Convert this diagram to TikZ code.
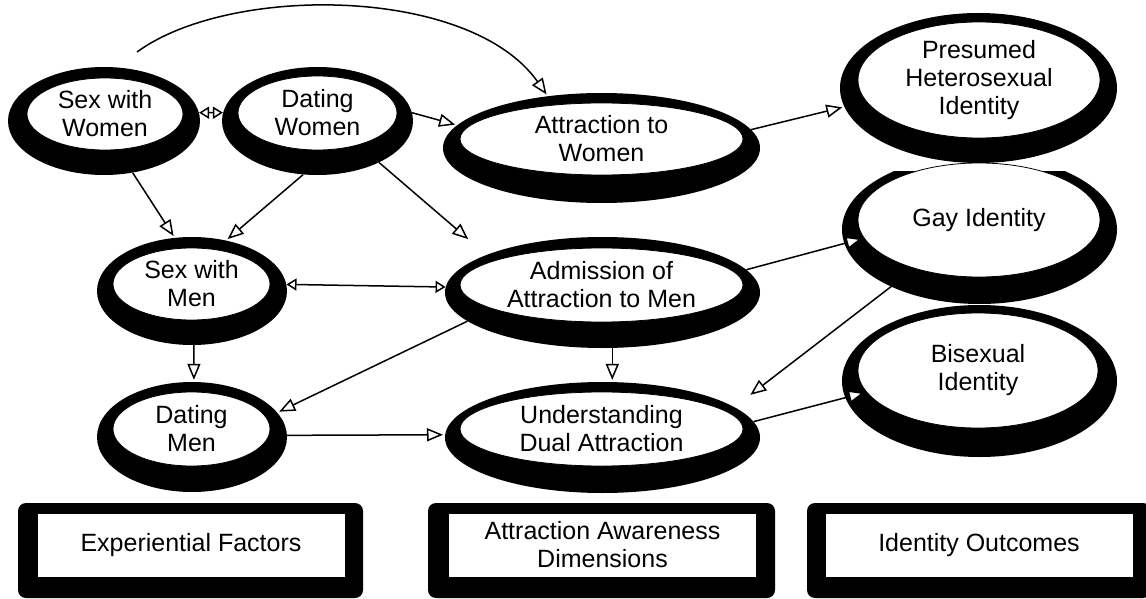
\documentclass[tikz,border=0pt]{standalone}
\usepackage{fontspec}
\setmainfont{Liberation Sans}
\usepackage{tikz}
\usetikzlibrary{shapes.geometric,arrows.meta,calc}

\tikzset{
	rim/.style 2 args={ellipse, fill=black, inner sep=0pt, minimum width=#1, minimum height=#2},
	face/.style 2 args={ellipse, draw=black, line width=0.8pt, fill=white, inner sep=0pt, minimum width=#1, minimum height=#2},
	words/.style={align=center, inner sep=0pt, font=\fontsize{25}{28}\selectfont},
	link/.style={line width=1.5pt, shorten >=2pt, -{Triangle[fill=white,length=16pt,width=13pt]}},
	both/.style={line width=1.5pt, {Triangle[fill=white,length=10pt,width=12pt]}-{Triangle[fill=white,length=10pt,width=12pt]}},
	panelrim/.style={rectangle, rounded corners=8pt, fill=black, minimum height=95},
	panel/.style={rectangle, draw=black, line width=0.5pt, fill=white, inner sep=0pt, minimum width=308, minimum height=64, align=center, font=\fontsize{25}{28}\selectfont}
}

\begin{document}
\begin{tikzpicture}[x=1pt,y=-1pt]
	\useasboundingbox (0,0) rectangle (1146,599);
	
	% experiential factors
	\node[rim={192}{108}] (sw) at (104,121) {};
	\node[face={156}{72}] (swi) at (105,114) {};
	\node[words] (swt) at (swi) {Sex with\\Women};
	
	\node[rim={191}{108}] (dw) at (317.5,121) {};
	\node[face={159}{74}] (dwi) at (317.5,113) {};
	\node[words] (dwt) at (dwi) {Dating\\Women};
	
	\node[rim={190}{108}] (sm) at (192,291) {};
	\node[face={157}{72}] (smi) at (191.5,284) {};
	\node[words] (smt) at (smi) {Sex with\\Men};
	
	\node[rim={190}{110}] (dm) at (192,437) {};
	\node[face={157}{74}] (dmi) at (191.5,429) {};
	\node[words] (dmt) at (dmi) {Dating\\Men};
	
	% attraction awareness
	\node[rim={317}{110}] (aw) at (601.5,148) {};
	\node[face={283}{72}] (awi) at (601.5,139) {};
	\node[words] (awt) at (awi) {Attraction to\\Women};
	
	\node[rim={315}{111}] (am) at (602.5,292.5) {};
	\node[face={283}{74}] (ami) at (601.5,285) {};
	\node[words] (amt) at (ami) {Admission of\\Attraction to Men};
	
	\node[rim={315}{111}] (ud) at (602.5,437.5) {};
	\node[face={283}{74}] (udi) at (601.5,429) {};
	\node[words] (udt) at (udi) {Understanding\\Dual Attraction};
	
	% identity outcomes
	\node[rim={277}{150}] (ph) at (978.5,88) {};
	\node[face={242}{116}] (phi) at (979,80) {};
	\node[words] (pht) at (phi) {Presumed\\Heterosexual\\Identity};
	
	\begin{scope}
		\clip (800,172) rectangle (1146,320);
		\node[rim={275}{149}] (gi) at (979.5,229.5) {};
	\end{scope}
	\node[face={242}{114}] (gii) at (979,220) {};
	\node[words] (git) at (gii) {Gay Identity};
	
	\node[rim={275}{152}] (bi) at (979.5,381) {};
	\node[face={240}{115}] (bii) at (978,370.5) {};
	\node[words] (bit) at (bii) {Bisexual\\Identity};
	
	% legend boxes
	\foreach \nm/\ox/\ow/\ix/\txt in {ef/190.5/345/191/{Experiential Factors},
		ad/601.5/347/602.5/{Attraction Awareness\\Dimensions},
		io/979/344/979/{Identity Outcomes}} {
		\node[panelrim, minimum width=\ow] (\nm) at (\ox,550.5) {};
		\node[panel] (\nm-in) at (\ix,545) {\txt};
	}
	
	% connectors
	\coordinate (arcstart) at (137,52);
	\draw[link] (arcstart) .. controls (230,-16) and (470,-14) .. (aw.136);
	\draw[both] (sw.5) -- (dw.175);
	\draw[link] (dw.5) -- (aw.171);
	\draw[link] (sw.-61) -- (sm.108);
	\draw[link] (dw.-105) -- (sm.56);
	\draw[link, shorten >=24pt] (dw.-34) -- (am.162);
	\draw[both] (sm.4) -- (am.178);
	\draw[link] (sm.-88) -- (dm.88);
	\draw[link] (am.192) -- (dm.16);
	\draw[link] (am.-80) -- (ud.80);
	\draw[link] (dm.1) -- (ud.179);
	\draw[link] (aw.7) -- (ph.188);
	\draw[link] (am.9) -- (gii.189);
	\draw[link, shorten >=20pt] (gii.217) -- (ud.13);
	\draw[link] (ud.6) -- (bii.191);
\end{tikzpicture}
\end{document}
